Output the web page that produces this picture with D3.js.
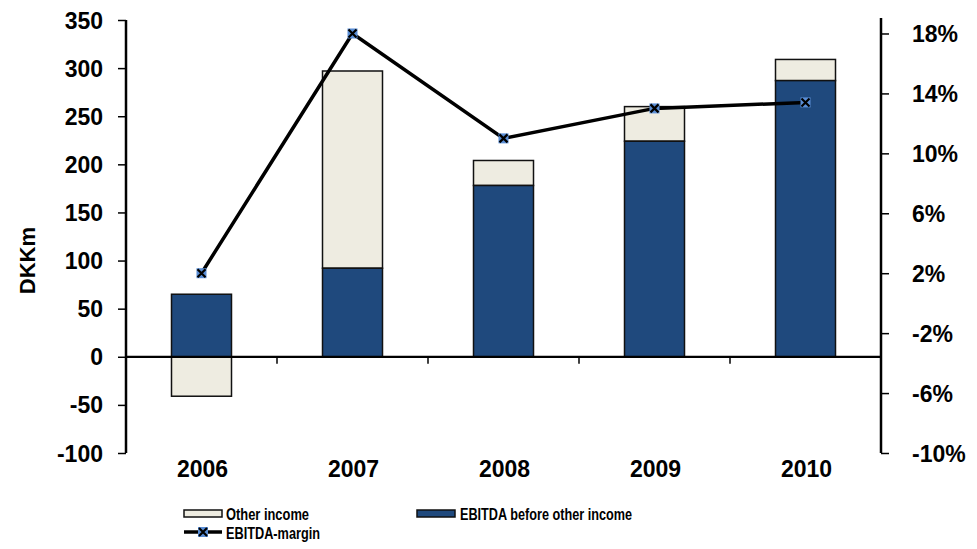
<!DOCTYPE html>
<html>
<head>
<meta charset="utf-8">
<script src="https://cdn.jsdelivr.net/npm/d3@7"></script>
<style>
  body { margin: 0; background: #fff; }
  text { font-family: "Liberation Sans", Arial, sans-serif; font-weight: bold; fill: #000; }
</style>
</head>
<body>
<div id="chart"></div>
<script>
// Data
var years = ["2006", "2007", "2008", "2009", "2010"];
var ebitdaBefore = [65, 92, 178, 224, 287];
var otherIncome = [-41, 205, 26, 36, 22];
var ebitdaMargin = [2.0, 18.0, 11.0, 13.0, 13.4];
var leftTicks = [-100, -50, 0, 50, 100, 150, 200, 250, 300, 350];
var rightTicks = [-10, -6, -2, 2, 6, 10, 14, 18];

var svgWidth = 977, svgHeight = 549;
var margin = { top: 20, right: 96, bottom: 96, left: 126 };
var width = svgWidth - margin.left - margin.right;
var height = svgHeight - margin.top - margin.bottom;

var svg = d3.select("#chart").append("svg")
    .attr("width", svgWidth)
    .attr("height", svgHeight);

var chartGroup = svg.append("g")
    .attr("transform", `translate(${margin.left}, ${margin.top})`);

// Scales
var xCat = d3.scaleBand().domain(years).range([0, width]);
var yLeft = d3.scaleLinear().domain([-100, 350]).range([height, 0]);
var yRight = d3.scaleLinear().domain([-10, 18.9]).range([height, 0]);

var dark = "#1f497d", light = "#eeece1";

// Bars: EBITDA before other income from 0, other income stacked on top (or below if negative)
years.forEach(function(yr, i) {
    var bx = xCat(yr) + xCat.bandwidth() / 2 - 30;
    var base = ebitdaBefore[i];
    var oth = otherIncome[i];
    // other income
    var y0 = oth >= 0 ? base : 0;
    var y1 = oth >= 0 ? base + oth : oth;
    chartGroup.append("rect")
        .attr("x", bx).attr("width", 60)
        .attr("y", yLeft(Math.max(y0, y1)))
        .attr("height", Math.abs(yLeft(y0) - yLeft(y1)))
        .attr("fill", light).attr("stroke", "#111").attr("stroke-width", 1.5);
    chartGroup.append("rect")
        .attr("x", bx).attr("width", 60)
        .attr("y", yLeft(base))
        .attr("height", yLeft(0) - yLeft(base))
        .attr("fill", dark).attr("stroke", "#111").attr("stroke-width", 1.5);
});

// Zero line
chartGroup.append("line")
    .attr("x1", 0).attr("x2", width)
    .attr("y1", yLeft(0)).attr("y2", yLeft(0))
    .attr("stroke", "#000").attr("stroke-width", 2.2);

// Category ticks on zero line
years.slice(1).forEach(function(yr) {
    chartGroup.append("line")
        .attr("x1", xCat(yr)).attr("x2", xCat(yr))
        .attr("y1", yLeft(0)).attr("y2", yLeft(0) + 7)
        .attr("stroke", "#000").attr("stroke-width", 1.5);
});

// Category labels
chartGroup.selectAll(".cat").data(years).enter().append("text")
    .attr("x", d => xCat(d) + xCat.bandwidth() / 2 + 1)
    .attr("y", height + 24)
    .style("font-size", "23px")
    .style("text-anchor", "middle")
    .text(d => d);

// Left axis
var leftAxis = d3.axisLeft(yLeft).tickValues(leftTicks).tickSize(8).tickPadding(15)
    .tickFormat(d => String(d));
var la = chartGroup.append("g").call(leftAxis);
la.select(".domain").attr("stroke-width", 2.5).attr("d", `M0,${height}V0`);
la.selectAll(".tick line").attr("stroke-width", 1.5);
la.selectAll("text").style("font-size", "23px").attr("dy", "0.35em");

// Right axis
var rightAxis = d3.axisRight(yRight).tickValues(rightTicks).tickSize(8).tickPadding(23)
    .tickFormat(d => String(d) + "%");
var ra = chartGroup.append("g").attr("transform", `translate(${width}, 0)`).call(rightAxis);
ra.select(".domain").attr("stroke-width", 2.5).attr("d", `M0,${height}V-2`);
ra.selectAll(".tick line").attr("stroke-width", 1.5);
ra.selectAll("text").style("font-size", "23px").attr("dy", "0.35em");

// Axis title
svg.append("text")
    .attr("transform", `translate(35, ${margin.top + yLeft(100)}) rotate(-90)`)
    .style("font-size", "22px")
    .style("text-anchor", "middle")
    .text("DKKm");

// Margin line
var line = d3.line()
    .x((d, i) => xCat(years[i]) + xCat.bandwidth() / 2)
    .y(d => yRight(d));
chartGroup.append("path")
    .datum(ebitdaMargin)
    .attr("d", line)
    .attr("fill", "none")
    .attr("stroke", "#000")
    .attr("stroke-width", 3.5);

function marker(g, x, y) {
    g.append("rect").attr("x", x - 5).attr("y", y - 5).attr("width", 10).attr("height", 10)
        .attr("fill", "#5a8ed6");
    g.append("path")
        .attr("d", `M${x - 4},${y - 4}L${x + 4},${y + 4}M${x + 4},${y - 4}L${x - 4},${y + 4}`)
        .attr("stroke", "#000").attr("stroke-width", 2.2);
}
ebitdaMargin.forEach(function(d, i) {
    marker(chartGroup, xCat(years[i]) + xCat.bandwidth() / 2, yRight(d));
});

// Legend
var lg = svg.append("g");
lg.append("rect").attr("x", 184).attr("y", 510).attr("width", 38).attr("height", 7)
    .attr("fill", light).attr("stroke", "#111").attr("stroke-width", 1.5);
lg.append("text").attr("x", 226).attr("y", 520).style("font-size", "17px")
    .attr("textLength", 83).attr("lengthAdjust", "spacingAndGlyphs").text("Other income");
lg.append("rect").attr("x", 417).attr("y", 510).attr("width", 38).attr("height", 7)
    .attr("fill", dark).attr("stroke", "#111").attr("stroke-width", 1.5);
lg.append("text").attr("x", 460).attr("y", 520).style("font-size", "17px")
    .attr("textLength", 172).attr("lengthAdjust", "spacingAndGlyphs").text("EBITDA before other income");
lg.append("line").attr("x1", 184).attr("x2", 222).attr("y1", 532).attr("y2", 532)
    .attr("stroke", "#000").attr("stroke-width", 3.5);
marker(lg, 203, 532);
lg.append("text").attr("x", 226).attr("y", 539).style("font-size", "17px")
    .attr("textLength", 94).attr("lengthAdjust", "spacingAndGlyphs").text("EBITDA-margin");
</script>
</body>
</html>
